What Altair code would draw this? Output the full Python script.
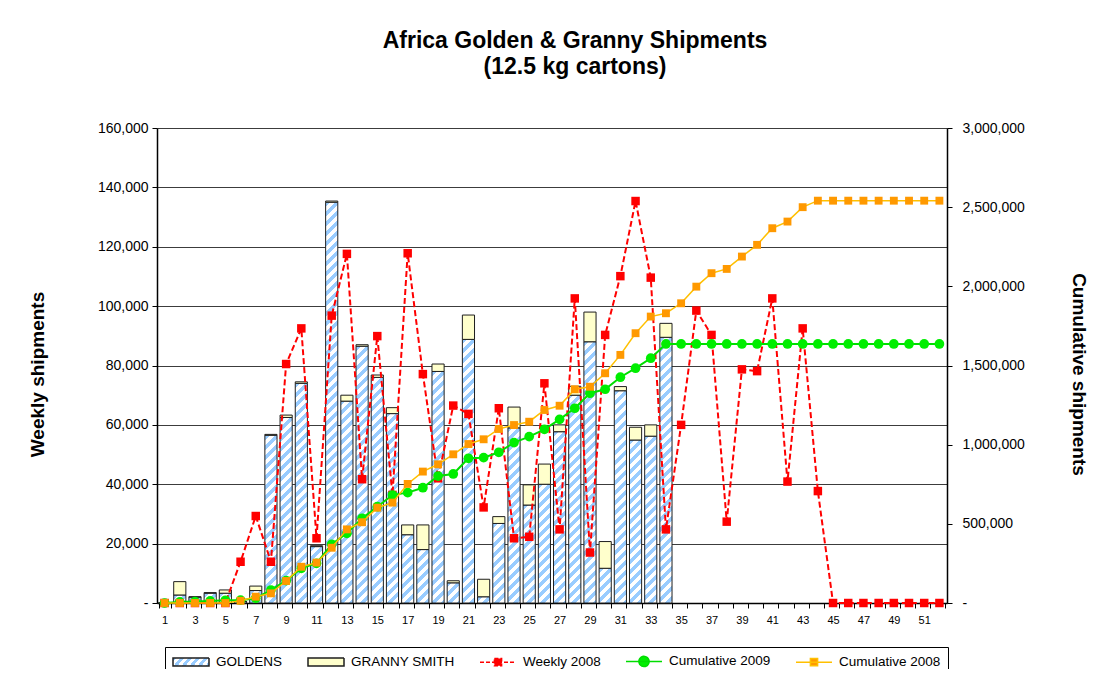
import json
import altair as alt

# ---------------- data ----------------
weeks = [1, 2, 3, 4, 5, 6, 7, 8, 9, 10, 11, 12, 13, 14, 15, 16, 17, 18, 19, 20,
         21, 22, 23, 24, 25, 26, 27, 28, 29, 30, 31, 32, 33, 34, 35, 36, 37, 38,
         39, 40, 41, 42, 43, 44, 45, 46, 47, 48, 49, 50, 51, 52]

bar_weeks = [1, 2, 3, 4, 5, 6, 7, 8, 9, 10, 11, 12, 13, 14, 15, 16, 17, 18, 19, 20,
             21, 22, 23, 24, 25, 26, 27, 28, 29, 30, 31, 32, 33, 34]
goldens = [0, 2700, 2000, 3300, 3300, 500, 4200, 56500, 62500, 74000, 19000, 135000,
           68000, 86500, 76000, 63800, 23000, 18000, 78000, 6800, 88800, 2100, 26800,
           59000, 33000, 40000, 57700, 70000, 88000, 11700, 71500, 54900, 56200, 89500]
granny = [0, 4500, 100, 200, 1100, 0, 1500, 300, 800, 500, 300, 400,
          2000, 500, 800, 2000, 3300, 8300, 2500, 700, 8200, 5900, 2300,
          7000, 6800, 6800, 2300, 3000, 10000, 9000, 1400, 4300, 3800, 4700]

weekly_2008 = [0, 0, 0, 0, 0, 13900, 29300, 13900, 80500, 92500, 21800, 96800,
               117600, 41700, 89900, 36400, 117800, 77100, 42000, 66500, 63700, 32200,
               65600, 21800, 22300, 74000, 24800, 102600, 17000, 90300, 110100, 135400,
               109600, 24800, 60000, 98500, 90300, 27400, 78700, 78100, 102600, 40900,
               92500, 37700, 0, 0, 0, 0, 0, 0, 0, 0]

cum_2009 = [0, 7000, 9000, 13000, 17000, 18000, 30000, 82000, 141000, 219000, 251000,
            371000, 440000, 535000, 608000, 682000, 697000, 728000, 802000, 815000,
            914000, 918000, 952000, 1013000, 1051000, 1097000, 1160000, 1230000,
            1325000, 1350000, 1426000, 1483000, 1546000, 1636000, 1636000, 1636000,
            1636000, 1636000, 1636000, 1636000, 1636000, 1636000, 1636000, 1636000,
            1636000, 1636000, 1636000, 1636000, 1636000, 1636000, 1636000, 1636000]

cum_2008 = [0, 0, 0, 0, 0, 14000, 40000, 61000, 139000, 229000, 255000, 349000,
            465000, 510000, 602000, 634000, 752000, 830000, 876000, 939000, 1004000,
            1034000, 1099000, 1124000, 1145000, 1219000, 1246000, 1350000, 1366000,
            1451000, 1567000, 1704000, 1809000, 1830000, 1893000, 1998000, 2083000,
            2110000, 2188000, 2262000, 2367000, 2409000, 2500000, 2541000, 2541000,
            2541000, 2541000, 2541000, 2541000, 2541000, 2541000, 2541000]

left_ticks = [0, 20000, 40000, 60000, 80000, 100000, 120000, 140000, 160000]
right_ticks = [0, 500000, 1000000, 1500000, 2000000, 2500000, 3000000]
legend_names = ["GOLDENS", "GRANNY SMITH", "Weekly 2008", "Cumulative 2009", "Cumulative 2008"]

title_lines = ["Africa Golden & Granny Shipments", "(12.5 kg cartons)"]

# ---------------- styling ----------------
W, H = 790, 475
FONT = "Liberation Sans"
BLUE = "#99CCFF"
LEFT_MAX = 160000
RIGHT_MAX = 3000000
band_w = 0.8 * W / len(weeks)


def stripes(w, h, period=10.0, frac=0.5):
    """Diagonal stripe fill as a linear gradient in the bar's bounding box."""
    L = w + h
    s = L / (w * w + h * h)
    stops = []
    k = 0
    while k * period < L:
        o0 = k * period / L
        o1 = min((k + frac) * period / L, 1.0)
        o2 = min((k + 1) * period / L, 1.0)
        stops += [{"offset": round(o0, 5), "color": BLUE},
                  {"offset": round(o1, 5), "color": BLUE},
                  {"offset": round(o1, 5), "color": "#FFFFFF"},
                  {"offset": round(o2, 5), "color": "#FFFFFF"}]
        k += 1
    return {"gradient": "linear", "x1": 0, "y1": 0,
            "x2": round(s * w, 6), "y2": round(s * h, 6), "stops": stops}


bar_rows = []
for wk, g, gr in zip(bar_weeks, goldens, granny):
    bar_rows.append({"week": wk, "variety": "GOLDENS", "lo": 0, "hi": g,
                     "paint": stripes(band_w, g / LEFT_MAX * H)})
    bar_rows.append({"week": wk, "variety": "GRANNY SMITH", "lo": g, "hi": g + gr,
                     "paint": "#FFFFCC"})

red_rows = [{"week": wk, "value": v} for wk, v in zip(weeks, weekly_2008)]
green_rows = [{"week": wk, "value": v} for wk, v in zip(weeks, cum_2009)]
orange_rows = [{"week": wk, "value": v} for wk, v in zip(weeks, cum_2008)]
legend_rows = [{"series": n} for n in legend_names]

zero_dash = "datum.value == 0 ? '-' : format(datum.value, ',')"

x_enc = alt.X(
    "week:O",
    scale=alt.Scale(domain=weeks, paddingInner=0.2, paddingOuter=0.1),
    axis=alt.Axis(
        title=None, labelAngle=0, labelExpr="datum.value % 2 == 1 ? datum.label : ''",
        tickBand="extent", tickSize=5, tickColor="#000000", domainColor="#000000",
        domainWidth=1.5, labelFont=FONT, labelFontSize=11, labelColor="#000000",
        labelPadding=6, grid=False,
    ),
)

yl_scale = alt.Scale(domain=[0, LEFT_MAX], nice=False, zero=True)
yl_axis = alt.Axis(
    values=left_ticks, labelExpr=zero_dash, grid=True, gridColor="#3c3c3c",
    gridWidth=1, tickSize=5, tickColor="#000000", domainColor="#000000",
    domainWidth=1.5, labelFont=FONT, labelFontSize=14, labelColor="#000000",
    labelPadding=4, title="Weekly shipments", titleFont=FONT, titleFontSize=19,
    titleFontWeight="bold", titleColor="#000000", titleAngle=270, titleX=-120,
    titleY=246, titleAlign="center", titleBaseline="middle",
)

yr_scale = alt.Scale(domain=[0, RIGHT_MAX], nice=False, zero=True)
yr_axis = alt.Axis(
    orient="right", values=right_ticks, labelExpr=zero_dash, grid=False,
    tickSize=5, tickColor="#000000", domainColor="#000000", domainWidth=1.5,
    labelFont=FONT, labelFontSize=14, labelColor="#000000", labelPadding=10,
    title="Cumulative shipments", titleFont=FONT, titleFontSize=19,
    titleFontWeight="bold", titleColor="#000000", titleAngle=90, titleX=131,
    titleY=246, titleAlign="center", titleBaseline="middle",
)

bars = alt.Chart(alt.Data(values=bar_rows)).mark_bar(
    stroke="#1e1e1e", strokeWidth=1
).encode(
    x=x_enc,
    y=alt.Y("hi:Q", scale=yl_scale, axis=yl_axis),
    y2="lo:Q",
    color=alt.Color("paint:N", scale=None),
)

red_line = alt.Chart(alt.Data(values=red_rows)).mark_line(
    color="#FF0000", strokeWidth=2, strokeDash=[6, 3]
).encode(x=x_enc, y=alt.Y("value:Q", scale=yl_scale, axis=yl_axis))

red_pts = alt.Chart(alt.Data(values=red_rows)).mark_point(
    shape="square", filled=True, size=72, color="#FF0000", opacity=1
).encode(x=x_enc, y=alt.Y("value:Q", scale=yl_scale, axis=yl_axis))

# ---------------- legend (native Vega legend, merged channels) ----------------
rect_path = "M-1,-0.67H5V0.67H-1Z"
sq_path = "M-1,0H5M1.4,-0.6H2.6V0.6H1.4Z"
circ_path = "M-1,0H5M2.85,0A0.85,0.85,0,1,1,1.15,0A0.85,0.85,0,1,1,2.85,0Z"

leg = alt.Legend(
    title=None, orient="none", legendX=8, legendY=519, direction="horizontal",
    columns=5, strokeColor="#000000", padding=7, symbolSize=144, labelOffset=30,
    columnPadding=22, labelFont=FONT, labelFontSize=13.5, labelColor="#000000",
    symbolOpacity=1, symbolStrokeWidth=1.5, fillColor="#FFFFFF",
)

legend_layer = alt.Chart(alt.Data(values=legend_rows)).mark_point(
    filled=True, opacity=0
).encode(
    fill=alt.Fill("series:N", legend=leg, scale=alt.Scale(
        domain=legend_names,
        range=[alt.ExprRef(json.dumps(stripes(36, 8, period=8))), "#FFFFCC", "#FF0000", "#00EE00", "#FF9900"])),
    stroke=alt.Stroke("series:N", legend=leg, scale=alt.Scale(
        domain=legend_names,
        range=["#1e1e1e", "#1e1e1e", "#FF0000", "#00DD00", "#FFC000"])),
    shape=alt.Shape("series:N", legend=leg, scale=alt.Scale(
        domain=legend_names, range=[rect_path, rect_path, sq_path, circ_path, sq_path])),
    strokeDash=alt.StrokeDash("series:N", legend=leg, scale=alt.Scale(
        domain=legend_names, range=[[1, 0], [1, 0], [4, 2], [1, 0], [1, 0]])),
)

left_group = alt.layer(bars, red_line, red_pts, legend_layer)

green_line = alt.Chart(alt.Data(values=green_rows)).mark_line(
    color="#00DD00", strokeWidth=2
).encode(x=x_enc, y=alt.Y("value:Q", scale=yr_scale, axis=yr_axis))
green_pts = alt.Chart(alt.Data(values=green_rows)).mark_point(
    shape="circle", filled=True, size=95, color="#00EE00", opacity=1
).encode(x=x_enc, y=alt.Y("value:Q", scale=yr_scale, axis=yr_axis))
orange_line = alt.Chart(alt.Data(values=orange_rows)).mark_line(
    color="#FFC000", strokeWidth=1.5
).encode(x=x_enc, y=alt.Y("value:Q", scale=yr_scale, axis=yr_axis))
orange_pts = alt.Chart(alt.Data(values=orange_rows)).mark_point(
    shape="square", filled=True, size=62, color="#FF9900", opacity=1
).encode(x=x_enc, y=alt.Y("value:Q", scale=yr_scale, axis=yr_axis))

right_group = alt.layer(green_line, green_pts, orange_line, orange_pts)

chart = alt.layer(left_group, right_group).resolve_scale(
    y="independent"
).properties(
    width=W, height=H,
    autosize=alt.AutoSizeParams(type="none"),
    padding={"left": 149, "top": 120, "right": 149, "bottom": 66},
    title=alt.TitleParams(
        text=title_lines, font=FONT, fontSize=23, fontWeight="bold",
        color="#000000", anchor="middle", dx=23, offset=42, lineHeight=26,
    ),
).configure_view(
    stroke="#000000", strokeWidth=1
).configure(background="#FFFFFF")

chart.save("out.html", embed_options={"renderer": "svg", "actions": False})
